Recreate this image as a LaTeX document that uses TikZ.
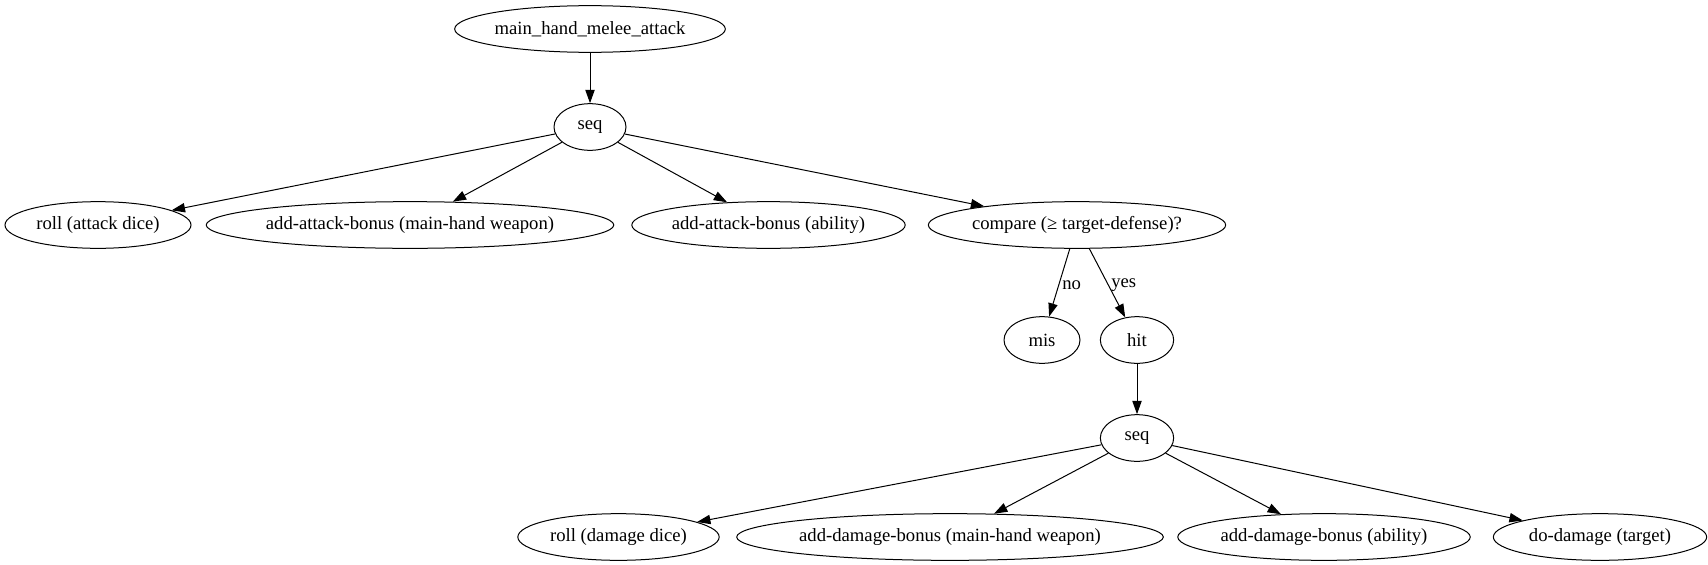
\documentclass[tikz,border=0pt]{standalone}
\usepackage{fontspec}
\setmainfont{Liberation Serif}
\usetikzlibrary{shapes.geometric,arrows.meta}
\begin{document}
\begin{tikzpicture}[x=0.75pt,y=-0.75pt,
  el/.style={draw, ellipse, inner sep=0pt, minimum height=35pt, font=\fontsize{14}{16}\selectfont, line width=0.75pt},
  ed/.style={-{Triangle[length=10pt,width=7pt]}, line width=0.75pt},
  lbl/.style={font=\fontsize{14}{16}\selectfont, anchor=west, inner sep=0pt}]
\useasboundingbox (0,0) rectangle (1708,564);
\node[el, minimum width=203pt] (main) at (590,29) {main\_hand\_melee\_attack};
\node[el, minimum width=54pt] (seqa) at (590,127) {seq};
\node[el, minimum width=139.5pt] (rolla) at (98,225) {roll (attack dice)};
\node[el, minimum width=295pt] (aabw) at (410,225) {add-attack-bonus (main-hand weapon)};
\node[el, minimum width=203pt] (aaba) at (768.5,225) {add-attack-bonus (ability)};
\node[el, minimum width=223pt] (cmp) at (1077,225) {compare (≥ target-defense)?};
\node[el, minimum width=57pt] (mis) at (1042,340) {mis};
\node[el, minimum width=55pt] (hit) at (1137,340) {hit};
\node[el, minimum width=55pt] (seqb) at (1137,438) {seq};
\node[el, minimum width=151pt] (rolld) at (618.5,537) {roll (damage dice)};
\node[el, minimum width=308pt] (adbw) at (950,537) {add-damage-bonus (main-hand weapon)};
\node[el, minimum width=215pt] (adba) at (1324,537) {add-damage-bonus (ability)};
\node[el, minimum width=160pt] (dodmg) at (1600,537) {do-damage (target)};
\draw[ed] (main) -- (seqa);
\draw[ed] (seqa) -- (rolla);
\draw[ed] (seqa) -- (aabw);
\draw[ed] (seqa) -- (aaba);
\draw[ed] (seqa) -- (cmp);
\draw[ed] (cmp) -- (mis);
\draw[ed] (cmp) -- (hit);
\draw[ed] (hit) -- (seqb);
\draw[ed] (seqb) -- (rolld);
\draw[ed] (seqb) -- (adbw);
\draw[ed] (seqb) -- (adba);
\draw[ed] (seqb) -- (dodmg);
\node[lbl] (lno) at (1062,285) {no};
\node[lbl] (lyes) at (1111,285) {yes};
\end{tikzpicture}
\end{document}
